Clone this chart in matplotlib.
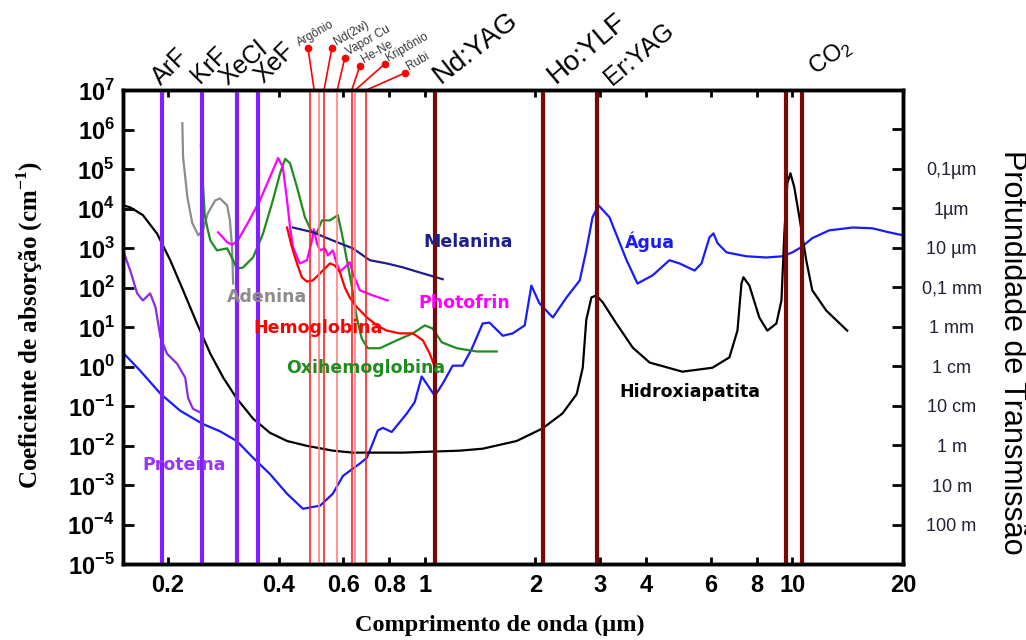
import matplotlib
matplotlib.use("Agg")
import matplotlib.pyplot as plt
import numpy as np
from matplotlib.ticker import FixedLocator, FixedFormatter, NullLocator

# ---- data (wavelength in um, absorption in cm^-1) ----
agua_wl = [0.151, 0.168, 0.191, 0.216, 0.249, 0.277, 0.308, 0.341, 0.379, 0.422,
           0.466, 0.519, 0.562, 0.599, 0.666, 0.696, 0.745, 0.769, 0.813, 0.894,
           0.939, 0.981, 1.065, 1.119, 1.191, 1.268, 1.342, 1.437, 1.50, 1.63,
           1.735, 1.87, 1.95, 2.05, 2.23, 2.43, 2.64, 2.75, 2.86, 2.97,
           3.18, 3.54, 3.79, 4.17, 4.63, 4.93, 5.42, 5.66, 5.95, 6.10,
           6.26, 6.62, 7.50, 8.50, 9.39, 10.0, 10.58, 11.33, 12.6, 14.6,
           16.5, 18.3, 20.0]
agua_abs = [2.24, 0.79, 0.204, 0.076, 0.035, 0.023, 0.013, 0.0049, 0.0019, 6.0e-4,
            2.5e-4, 3.0e-4, 6.0e-4, 1.7e-3, 3.5e-3, 4.9e-3, 0.024, 0.028, 0.022, 0.065,
            0.126, 0.56, 0.18, 0.37, 1.05, 1.05, 2.8, 12.3, 12.9, 6.0,
            6.9, 11, 112, 40, 17.4, 56, 151, 870, 6.0e3, 1.2e4,
            6.0e3, 490, 126, 204, 490, 407, 269, 407, 1.86e3, 2.34e3,
            1.32e3, 776, 617, 575, 617, 776, 1.05e3, 1.78e3, 2.8e3, 3.3e3,
            3.16e3, 2.5e3, 2.1e3]

hidrox_wl = [0.151, 0.158, 0.171, 0.187, 0.203, 0.220, 0.240, 0.261, 0.283, 0.308,
             0.341, 0.379, 0.422, 0.478, 0.562, 0.637, 0.871, 1.245, 1.437, 1.778,
             2.09, 2.37, 2.59, 2.69, 2.75, 2.84, 2.93, 3.05, 3.32, 3.68,
             4.09, 5.02, 6.06, 6.74, 7.09, 7.27, 7.36, 7.64, 8.13, 8.55,
             9.05, 9.34, 9.51, 9.69, 9.88, 10.12, 10.45, 10.91, 11.33, 12.37, 14.1]
hidrox_abs = [1.2e4, 1.07e4, 6.8e3, 2.3e3, 490, 85, 12.3, 2.1, 0.52, 0.155,
              0.048, 0.021, 0.013, 0.0098, 0.0074, 0.0066, 0.0066, 0.0074, 0.0083, 0.013,
              0.027, 0.065, 0.20, 0.93, 15, 56, 63, 42, 12.3, 3.0,
              1.26, 0.74, 0.93, 1.7, 8.1, 126, 182, 112, 17.4, 8.1,
              12.3, 47, 2.3e3, 4.4e4, 7.8e4, 3.5e4, 6.0e3, 490, 85, 26, 8.1]

proteina_wl = [0.151, 0.158, 0.165, 0.171, 0.179, 0.185, 0.191, 0.199, 0.212, 0.223,
               0.227, 0.234, 0.248]
proteina_abs = [870, 269, 71, 47, 71, 32, 5.4, 2.1, 1.17, 0.52, 0.16, 0.085, 0.065]

adenina_wl = [0.219, 0.220, 0.226, 0.233, 0.242, 0.249, 0.257, 0.269, 0.277, 0.290,
              0.295, 0.299, 0.301]
adenina_abs = [1.45e6, 2.0e5, 1.95e4, 4.3e3, 2.1e3, 2.8e3, 7.6e3, 1.6e4, 1.8e4, 1.2e4,
               5.0e3, 1.05e3, 126]

oxi_wl = [0.246, 0.248, 0.252, 0.256, 0.261, 0.272, 0.290, 0.301, 0.308, 0.320,
          0.341, 0.363, 0.386, 0.404, 0.417, 0.430, 0.449, 0.472, 0.493, 0.509,
          0.525, 0.552, 0.569, 0.580, 0.595, 0.614, 0.634, 0.653, 0.674, 0.700,
          0.755, 0.839, 0.928, 1.0, 1.051, 1.112, 1.222, 1.384, 1.57]
oxi_abs = [4.0e5, 8.3e4, 6.8e3, 3.3e3, 1.55e3, 870, 980, 490, 300, 320,
           575, 2.3e3, 1.6e4, 7.8e4, 1.8e5, 1.4e5, 3.5e4, 6.0e3, 2.5e3, 2.5e3,
           5.0e3, 5.0e3, 6.0e3, 6.8e3, 2.3e3, 490, 100, 17.4, 5.1, 2.9,
           2.9, 4.6, 6.9, 11, 9.1, 4.1, 2.9, 2.4, 2.4]

photofrin_wl = [0.274, 0.290, 0.299, 0.310, 0.330, 0.356, 0.379, 0.399, 0.411, 0.422,
                0.430, 0.438, 0.457, 0.478, 0.493, 0.499, 0.509, 0.519, 0.535, 0.545,
                0.562, 0.576, 0.588, 0.606, 0.625, 0.637, 0.666, 0.722, 0.793]
photofrin_abs = [2.5e3, 1.4e3, 1.2e3, 1.55e3, 4.3e3, 1.6e4, 6.2e4, 1.9e5, 1.1e5, 1.6e4,
                 3.3e3, 1.05e3, 407, 490, 1.55e3, 3.0e3, 1.3e3, 870, 980, 650,
                 870, 407, 257, 324, 437, 229, 85, 63, 47]

hemo_wl = [0.422, 0.435, 0.449, 0.463, 0.478, 0.496, 0.519, 0.552, 0.569, 0.588,
           0.606, 0.625, 0.653, 0.696, 0.741, 0.788, 0.855, 0.928, 0.988, 1.032, 1.078]
hemo_abs = [3.3e3, 1.05e3, 407, 182, 141, 151, 229, 407, 363, 240,
            100, 56, 32, 17.4, 11, 8.1, 6.9, 6.9, 4.6, 2.1, 0.71]

melanina_wl = [0.438, 0.496, 0.562, 0.637, 0.709, 0.788, 0.871, 0.969, 1.119]
melanina_abs = [3.3e3, 2.5e3, 1.55e3, 980, 490, 407, 324, 240, 162]

# lasers
excimer_names = ["ArF", "KrF", "XeCl", "XeF"]
excimer_wl = [0.193, 0.248, 0.308, 0.351]
visible_wl = [0.488, 0.514, 0.532, 0.578, 0.633, 0.647, 0.694]
ir_names = ["Nd:YAG", "Ho:YLF", "Er:YAG", "CO$_\\mathregular{2}$"]
ir_wl = [[1.064], [2.1], [2.94], [9.6, 10.6]]
vis_names = ["Argônio", "Nd(2w)", "Vapor Cu", "He-Ne", "Kriptônio", "Rubi"]
vis_foot = [0.50, 0.532, 0.578, 0.633, 0.647, 0.694]

x_ticks = [0.2, 0.4, 0.6, 0.8, 1, 2, 3, 4, 6, 8, 10, 20]
x_labels = ["0.2", "0.4", "0.6", "0.8", "1", "2", "3", "4", "6", "8", "10", "20"]
depth_labels = ["0,1µm", "1µm", "10 µm", "0,1 mm", "1 mm", "1 cm", "10 cm",
                "1 m", "10 m", "100 m"]

plt.rcParams["mathtext.fontset"] = "custom"
plt.rcParams["mathtext.rm"] = "Liberation Sans:bold"
plt.rcParams["mathtext.bf"] = "Liberation Sans:bold"

fig = plt.figure(figsize=(10.26, 6.4), dpi=100)
ax = fig.add_axes([123 / 1026, 1 - 564 / 640, 780 / 1026, 474 / 640])
ax.set_xscale("log")
ax.set_yscale("log")
ax.set_xlim(0.151, 20)
ax.set_ylim(1e-5, 1e7)

# curves
lw = 1.6
ax.plot(agua_wl, agua_abs, color="#1a1aff", lw=lw, zorder=2)
ax.plot(hidrox_wl, hidrox_abs, color="black", lw=lw, zorder=2)
ax.plot(proteina_wl, proteina_abs, color="#8a2be2", lw=lw, zorder=2)
ax.plot(adenina_wl, adenina_abs, color="#8c8c8c", lw=lw, zorder=2)
ax.plot(oxi_wl, oxi_abs, color="#1e8c1e", lw=lw, zorder=2)
ax.plot(photofrin_wl, photofrin_abs, color="#ff00ff", lw=lw, zorder=2)
ax.plot(hemo_wl, hemo_abs, color="#ff0000", lw=lw, zorder=2)
ax.plot(melanina_wl, melanina_abs, color="#1f1f8a", lw=lw, zorder=2)

# laser lines
for w in excimer_wl:
    ax.axvline(w, color="#8020ff", lw=3, zorder=3)
for i, w in enumerate(visible_wl):
    ax.axvline(w, color="#ff2020" if i % 2 == 0 else "#ff8080", lw=1.2, zorder=3)
for ws in ir_wl:
    for w in ws:
        ax.axvline(w, color="#7a0808", lw=3, zorder=3)

xt = ax.get_xaxis_transform()
# big laser labels
lab_x = [0.191, 0.245, 0.29, 0.363, 1.104, 2.27, 3.23, 11.55]
lab_y = [1.008, 1.013, 1.008, 1.013, 1.013, 1.013, 1.008, 1.03]
lab_rot = [45, 45, 40, 45, 38, 40, 40, 35]
lab_size = [18, 18, 18, 18, 20, 20, 18, 17]
for name, x, y, r, s in zip(excimer_names + ir_names, lab_x, lab_y, lab_rot, lab_size):
    ax.text(x, y, name, transform=xt, rotation=r, rotation_mode="anchor",
            ha="left", va="baseline", fontsize=s, family="Liberation Sans")

# visible laser pointers
dot_x = [0.481, 0.559, 0.606, 0.666, 0.778, 0.883]
dot_y = [1.089, 1.089, 1.068, 1.051, 1.055, 1.036]
for name, foot, dx, dy in zip(vis_names, vis_foot, dot_x, dot_y):
    ax.plot([foot, dx], [1.0, dy], transform=xt, color="red", lw=1.2, clip_on=False)
    ax.plot([dx], [dy], "o", ms=4.5, color="red", transform=xt, clip_on=False)
    off = (-6, 1) if name == "Argônio" else (3, 2)
    ax.annotate(name, xy=(dx, dy), xycoords=xt, xytext=off, textcoords="offset points",
                rotation=30, rotation_mode="anchor", ha="left", va="baseline",
                fontsize=8.5, color="#333333", family="Liberation Sans")

# curve labels
tfont = dict(fontsize=12.5, fontweight="bold", family="DejaVu Sans", ha="center",
             va="center", zorder=5)
ax.text(1.31, 1.4e3, "Melanina", color="#1f1f8a", **tfont)
ax.text(1.28, 40, "Photofrin", color="#ff00ff", **tfont)
ax.text(4.09, 1.4e3, "Água", color="#1a1aff", **tfont)
ax.text(0.372, 56, "Adenina", color="#8c8c8c", **tfont)
ax.text(0.512, 9.7, "Hemoglobina", color="#ff0000", **tfont)
ax.text(0.691, 0.93, "Oxihemoglobina", color="#1e8c1e", **tfont)
ax.text(5.25, 0.22, "Hidroxiapatita", color="black", **tfont)
ax.text(0.221, 3.2e-3, "Proteína", color="#9933ff", **tfont)

# axes styling
for sp in ax.spines.values():
    sp.set_linewidth(2.5)
ax.xaxis.set_major_locator(FixedLocator(x_ticks))
ax.xaxis.set_major_formatter(FixedFormatter(x_labels))
ax.xaxis.set_minor_locator(NullLocator())
y_ticks = [10.0 ** k for k in range(-5, 8)]
ax.yaxis.set_major_locator(FixedLocator(y_ticks))
ax.yaxis.set_major_formatter(FixedFormatter(
    [r"10$^{\mathregular{%d}}$" % k for k in range(-5, 8)]))
ax.yaxis.set_minor_locator(NullLocator())
ax.tick_params(axis="x", which="major", direction="in", length=5, width=2,
               top=True, pad=7, labelsize=17)
ax.tick_params(axis="y", which="major", direction="in", length=8, width=2,
               pad=6, labelsize=17)
for lbl in ax.get_xticklabels() + ax.get_yticklabels():
    lbl.set_fontweight("bold")
    lbl.set_family("Liberation Sans")

ax2 = ax.twinx()
ax2.set_yscale("log")
ax2.set_ylim(1e-5, 1e7)
ax2.yaxis.set_major_locator(FixedLocator([10.0 ** k for k in range(-4, 7)]))
ax2.yaxis.set_major_formatter(FixedFormatter(depth_labels[::-1] + [""]))
ax2.yaxis.set_minor_locator(NullLocator())
ax2.tick_params(axis="y", direction="in", length=8, width=2, pad=35, labelsize=13,
                labelcolor="#222233")
for lbl in ax2.get_yticklabels():
    lbl.set_horizontalalignment("center")
    lbl.set_family("Liberation Sans")
for sp in ax2.spines.values():
    sp.set_linewidth(2.5)

fig.text(30 / 1026, 1 - 325 / 640, "Coeficiente de absorção (cm$^{\\mathregular{-1}}$)",
         rotation=90, ha="center", va="center", fontsize=18, fontweight="bold",
         family="Liberation Serif")
fig.text(500 / 1026, 1 - 625 / 640, "Comprimento de onda (µm)", ha="center",
         va="center", fontsize=17.5, fontweight="bold", family="Liberation Serif")
fig.text(1012 / 1026, 1 - 352 / 640, "Profundidade de Transmissão", rotation=270,
         ha="center", va="center", fontsize=22, family="Liberation Sans")

fig.savefig("out.png", dpi=100)
